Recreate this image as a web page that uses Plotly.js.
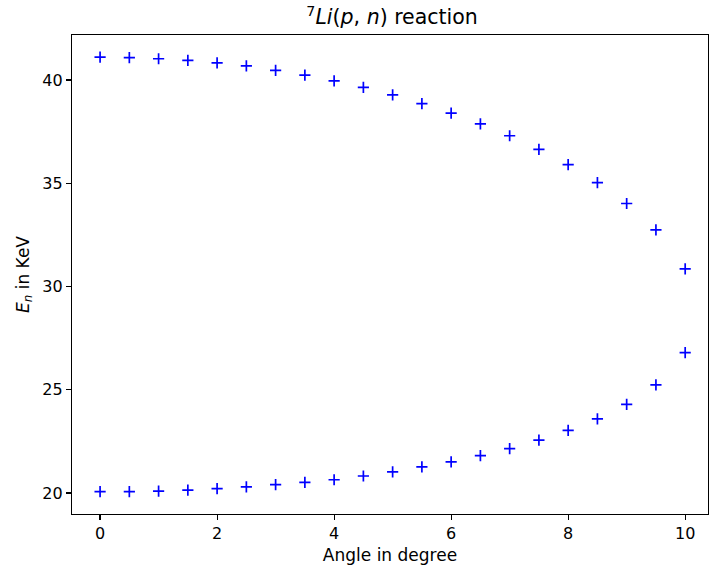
<!DOCTYPE html>
<html>
<head>
<meta charset="utf-8">
<script src="https://cdn.plot.ly/plotly-3.0.1.min.js"></script>
<style>html,body{margin:0;padding:0;background:#fff;}</style>
</head>
<body>
<div id="chart" style="width:709px;height:569px;"></div>
<script>
const angles = [0, 0.5, 1, 1.5, 2, 2.5, 3, 3.5, 4, 4.5, 5, 5.5, 6, 6.5, 7, 7.5, 8, 8.5, 9, 9.5, 10];
const upperEnergy = [41.11, 41.08, 41.03, 40.95, 40.83, 40.68, 40.47, 40.24, 39.96, 39.64, 39.28, 38.86, 38.40, 37.88, 37.30, 36.64, 35.90, 35.03, 34.02, 32.74, 30.85];
const lowerEnergy = [20.06, 20.06, 20.09, 20.14, 20.21, 20.29, 20.40, 20.51, 20.64, 20.82, 21.02, 21.26, 21.50, 21.81, 22.15, 22.56, 23.03, 23.59, 24.29, 25.23, 26.80];
const xTicks = [0, 2, 4, 6, 8, 10];
const yTicks = [20, 25, 30, 35, 40];

const font = "DejaVu Sans, sans-serif";
const markerStyle = {symbol: 'cross-thin-open', size: 8, color: 'blue', line: {color: 'blue', width: 1.7}};

const traces = [
  {x: angles, y: upperEnergy, mode: 'markers', type: 'scatter', marker: markerStyle, showlegend: false},
  {x: angles, y: lowerEnergy, mode: 'markers', type: 'scatter', marker: markerStyle, showlegend: false}
];

const axisCommon = {
  showgrid: false, zeroline: false,
  showline: true, linecolor: 'black', linewidth: 1.2, mirror: true,
  ticks: 'outside', ticklen: 5, tickwidth: 1.2, tickcolor: 'black',
  tickfont: {family: font, size: 16, color: 'black'}
};

const layout = {
  width: 709, height: 569,
  margin: {l: 72, r: 1, t: 35, b: 55},
  paper_bgcolor: 'white', plot_bgcolor: 'white',
  font: {family: font, color: 'black'},
  title: {
    text: '<sup>7</sup><i>Li</i>(<i>p</i>, <i>n</i>) reaction',
    font: {family: font, size: 20.5, color: 'black'},
    x: 0.553, xanchor: 'center', y: 0.97, yanchor: 'middle', yref: 'container'
  },
  xaxis: Object.assign({}, axisCommon, {
    range: [-0.48, 10.39],
    tickvals: xTicks, ticktext: xTicks.map(String),
    title: {text: 'Angle in degree', font: {family: font, size: 17, color: 'black'}, standoff: 6}
  }),
  yaxis: Object.assign({}, axisCommon, {
    range: [18.98, 42.18],
    tickvals: yTicks, ticktext: yTicks.map(String),
    title: {text: '<i>E</i><sub><i>n</i></sub> in KeV', font: {family: font, size: 17, color: 'black'}, standoff: 8}
  })
};

Plotly.newPlot('chart', traces, layout, {displayModeBar: false, staticPlot: true});
</script>
</body>
</html>
